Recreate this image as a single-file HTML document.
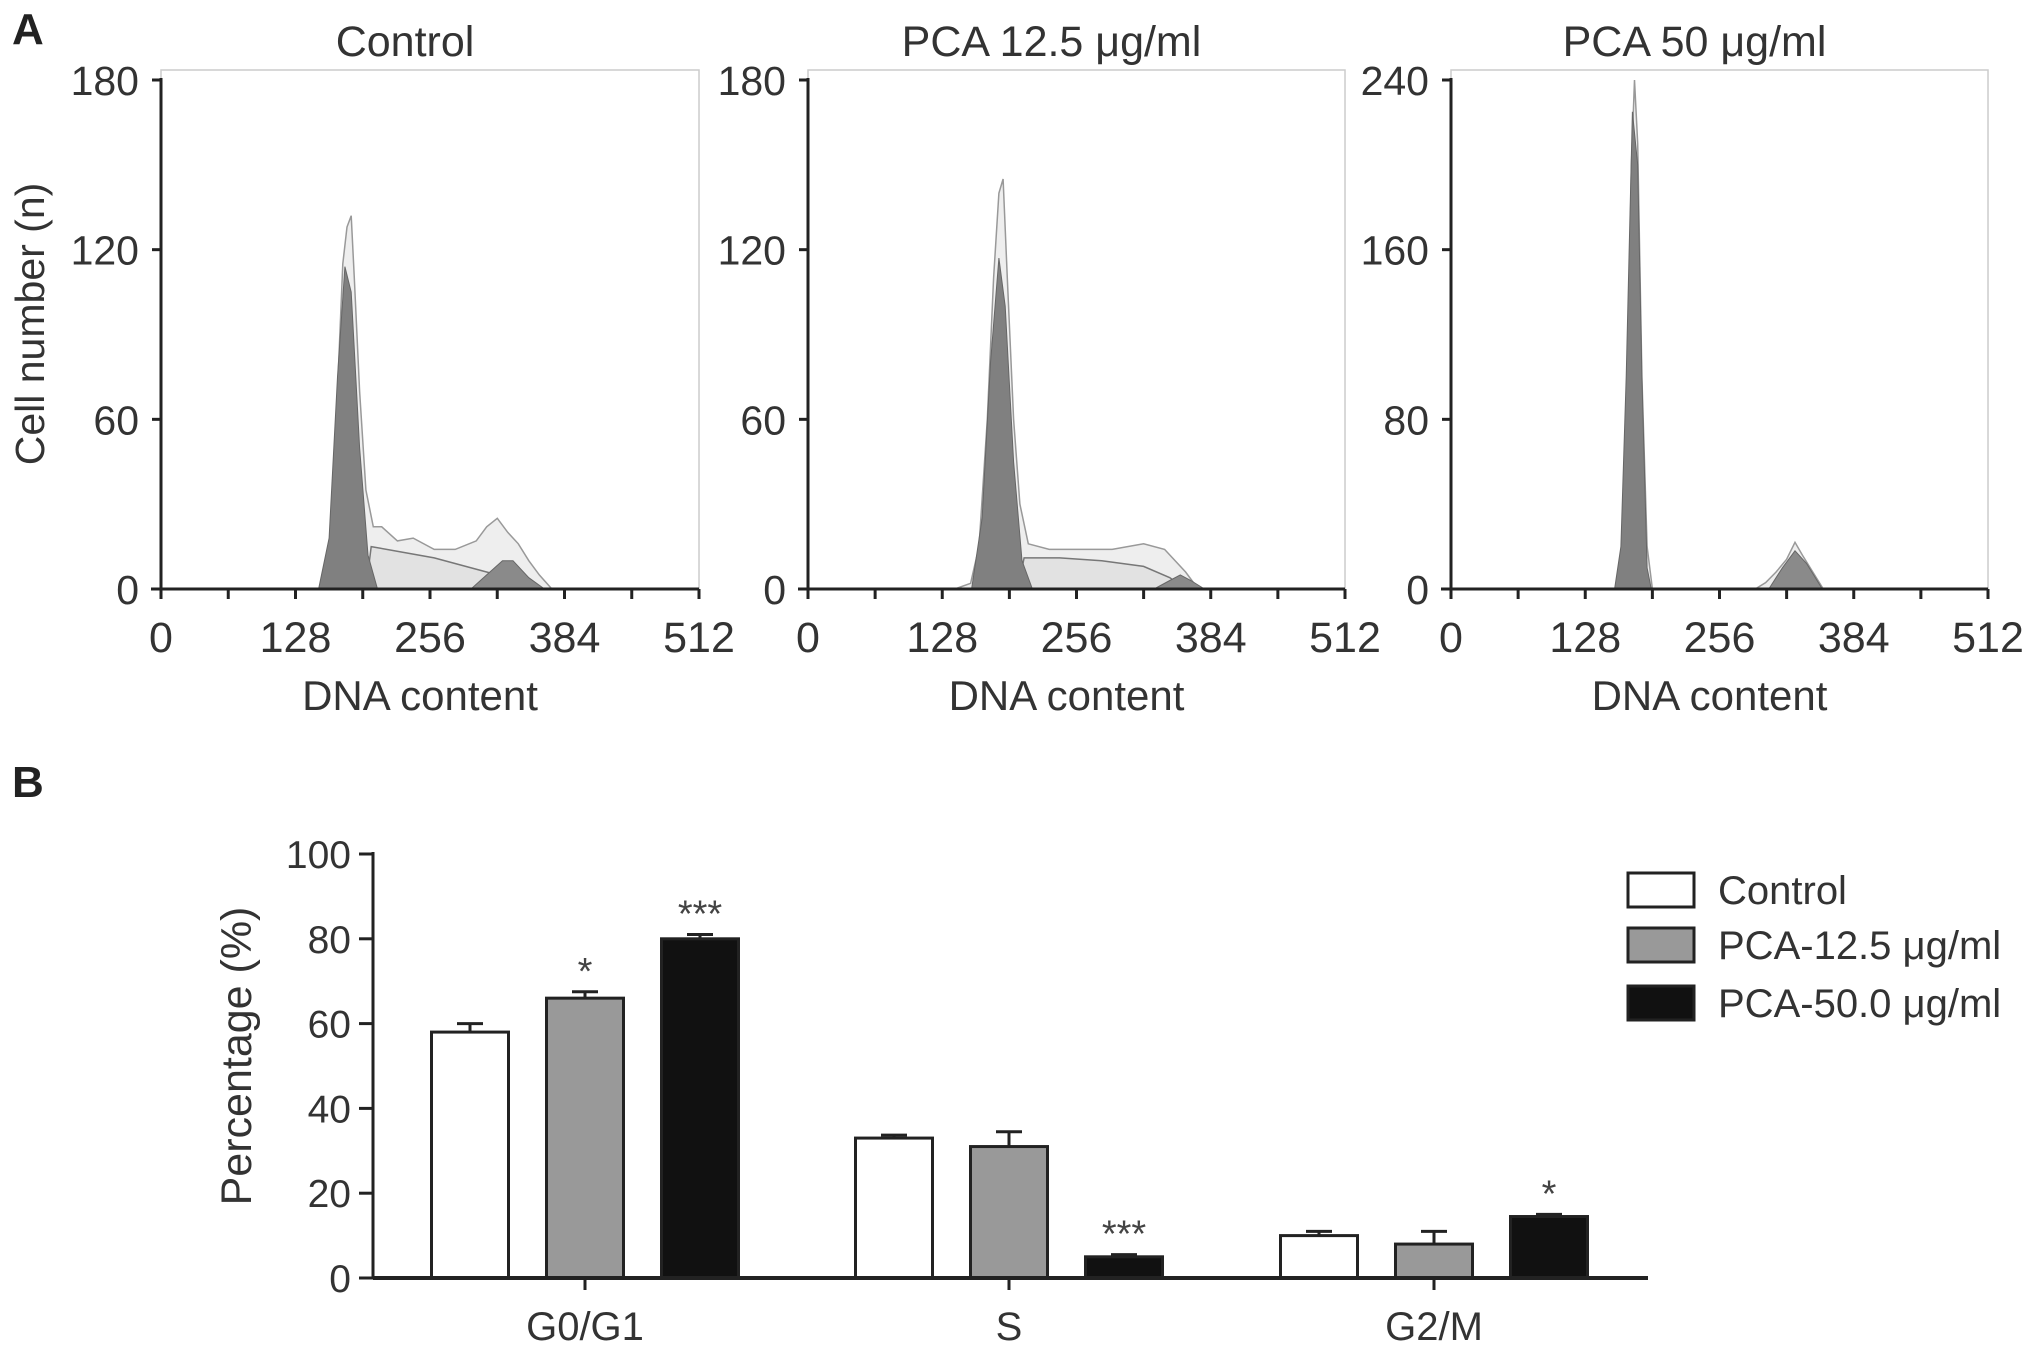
<!DOCTYPE html>
<html><head><meta charset="utf-8"><style>
body{margin:0;background:#fff}
svg{display:block;font-family:"Liberation Sans",sans-serif}
</style></head><body>
<svg id="fig" width="2031" height="1352" viewBox="0 0 2031 1352" xmlns="http://www.w3.org/2000/svg">
<text x="12" y="44" font-size="44" font-weight="bold" fill="#222">A</text>
<text x="12" y="797" font-size="44" font-weight="bold" fill="#222">B</text>
<text transform="translate(44,324) rotate(-90)" text-anchor="middle" font-size="41" fill="#333">Cell number (n)</text>
<g id="hists"></g>
<g id="bars"></g>
</svg>
<script>
// ---- Panel A histogram data (channel, count) ----
const histTitles = ["Control", "PCA 12.5 μg/ml", "PCA 50 μg/ml"];
const histYMax = [180, 180, 240];
const histYTicks = [[0,60,120,180],[0,60,120,180],[0,80,160,240]];
const xTicks = [0,128,256,384,512];
const rawCtrl = [[150,0],[156,3],[162,20],[168,70],[173,115],[177,128],[181,132],[184,110],[189,70],[195,35],[202,22],[210,22],[225,17],[240,18],[260,14],[280,14],[300,17],[310,22],[320,25],[330,20],[340,16],[350,10],[360,5],[372,0]];
const g1Ctrl = [[150,0],[160,18],[168,75],[175,114],[181,105],[189,50],[197,12],[206,0]];
const sCtrl = [[195,0],[200,15],[230,13],[260,11],[290,8],[320,5],[350,1],[360,0]];
const g2Ctrl = [[295,0],[310,5],[325,10],[335,10],[350,4],[365,0]];
const raw12 = [[140,0],[155,2],[163,15],[171,60],[177,110],[182,140],[186,145],[190,110],[196,60],[202,30],[210,16],[230,14],[260,14],[290,14],[320,16],[340,14],[360,6],[372,0]];
const g112 = [[156,0],[166,25],[174,80],[182,117],[188,100],[196,45],[204,10],[214,0]];
const s12 = [[200,0],[206,11],[240,11],[280,10],[320,8],[345,4],[360,0]];
const g212 = [[330,0],[345,3],[355,5],[365,3],[378,0]];
const raw50 = [[150,0],[158,0],[163,10],[168,80],[172,200],[175,240],[178,210],[182,100],[187,20],[192,0],[290,0],[300,3],[310,8],[320,14],[328,22],[335,16],[345,8],[355,0]];
const g150 = [[156,0],[162,20],[167,100],[173,225],[178,200],[182,100],[187,10],[191,0]];
const s50 = [[190,0],[300,0]];
const g250 = [[303,0],[316,10],[328,18],[339,12],[354,0]];
const histRaw = [rawCtrl, raw12, raw50];
const histG1 = [g1Ctrl, g112, g150];
const histS = [sCtrl, s12, s50];
const histG2 = [g2Ctrl, g212, g250];

// ---- Panel B bar data ----
const phases = ["G0/G1","S","G2/M"];
const groups = ["Control","PCA-12.5 μg/ml","PCA-50.0 μg/ml"];
const valControl = [58, 33, 10];
const valPCA125 = [66, 31, 8];
const valPCA50 = [80, 5, 14.5];
const errControl = [2, 0.7, 1];
const errPCA125 = [1.5, 3.5, 3];
const errPCA50 = [1, 0.5, 0.5];
const sigControl = ["", "", ""];
const sigPCA125 = ["*", "", ""];
const sigPCA50 = ["***", "***", "*"];
const barYTicks = [0,20,40,60,80,100];

const NS="http://www.w3.org/2000/svg";
function mk(tag, attrs, parent, text){
  const e=document.createElementNS(NS,tag);
  for(const k in attrs) e.setAttribute(k,attrs[k]);
  if(text!==undefined) e.textContent=text;
  parent.appendChild(e); return e;
}
const H=document.getElementById('hists');
const panelX0=[161,808,1451], panelX1=[699,1345,1988];
const yTop=80, yBot=589;
for(let p=0;p<3;p++){
  const x0=panelX0[p], x1=panelX1[p];
  const sx=v=>x0+(v/512)*(x1-x0);
  const sy=v=>yBot-(v/histYMax[p])*(yBot-yTop);
  const g=mk('g',{},H);
  
  
  const fr=mk('rect',{x:x0,y:yTop-10,width:x1-x0,height:yBot-yTop+10,fill:'none',stroke:'#ccc','stroke-width':1.5},g);
  
  
  const t=mk('text',{x:(x0+x1)/2-25,y:56,'text-anchor':'middle','font-size':43,fill:'#333'},g,histTitles[p]);
  
  
  const poly=(pts,attrs,name)=>{
    const d=pts.map((q,i)=>(i?'L':'M')+sx(q[0]).toFixed(1)+','+sy(q[1]).toFixed(1)).join(' ');
    const e=mk('path',Object.assign({d:d},attrs),g);
    
    
  };
  poly(histRaw[p].concat([[histRaw[p][histRaw[p].length-1][0],0]]),{fill:'#eee',stroke:'#999','stroke-width':1.5},'raw-histogram');
  poly(histS[p],{fill:'#e2e2e2',stroke:'#777','stroke-width':1.5},'s-phase-fit');
  poly(histG1[p],{fill:'#808080',stroke:'#666','stroke-width':1},'g1-peak');
  poly(histG2[p],{fill:'#8a8a8a',stroke:'#666','stroke-width':1},'g2-peak');
  const ya=mk('line',{x1:x0,y1:yTop-2,x2:x0,y2:yBot+10,stroke:'#222','stroke-width':3},g);
  
  
  const xa=mk('line',{x1:x0-10,y1:yBot,x2:x1,y2:yBot,stroke:'#222','stroke-width':3},g);
  
  
  histYTicks[p].forEach(v=>{
    mk('line',{x1:x0-9,y1:sy(v),x2:x0,y2:sy(v),stroke:'#222','stroke-width':3},g);
    const l=mk('text',{x:x0-22,y:sy(v)+15,'text-anchor':'end','font-size':41,fill:'#333'},g,v);
    
    
  });
  for(let v=0;v<=512;v+=64){
    mk('line',{x1:sx(v),y1:yBot,x2:sx(v),y2:yBot+10,stroke:'#222','stroke-width':3},g);
  }
  xTicks.forEach(v=>{
    const l=mk('text',{x:sx(v),y:652,'text-anchor':'middle','font-size':43,fill:'#333'},g,v);
    
    
  });
  const xt=mk('text',{x:(x0+x1)/2-10,y:710,'text-anchor':'middle','font-size':42,fill:'#333'},g,'DNA content');
  
  
}

// Panel B
const B=document.getElementById('bars');
const bx0=373,bx1=1648,by0=1278,by1=854;
const by=v=>by0-(v/100)*(by0-by1);
const centers=[585,1009,1434], bw=77, step=115;
const vals=[valControl,valPCA125,valPCA50], errs=[errControl,errPCA125,errPCA50], sigs=[sigControl,sigPCA125,sigPCA50];
const fills=['#fff','#999','#111'];
const yt=mk('text',{transform:'translate(251,1056) rotate(-90)','text-anchor':'middle','font-size':43,fill:'#333'},B,'Percentage (%)');


for(let i=0;i<phases.length;i++){
  for(let s=0;s<3;s++){
    const cx=centers[i]+(s-1)*step, v=vals[s][i], e=errs[s][i];
    const eb=mk('line',{x1:cx,y1:by(v),x2:cx,y2:by(v+e),stroke:'#222','stroke-width':3},B);
    
    
    mk('line',{x1:cx-13,y1:by(v+e),x2:cx+13,y2:by(v+e),stroke:'#222','stroke-width':3},B);
    const r=mk('rect',{x:cx-bw/2,y:by(v),width:bw,height:by0-by(v),fill:fills[s],stroke:'#222','stroke-width':3},B);
    
    
    if(sigs[s][i]){
      const t=mk('text',{x:cx,y:by(v+e)-8,'text-anchor':'middle','font-size':38,fill:'#444'},B,sigs[s][i]);
      
      
    }
  }
  mk('line',{x1:centers[i],y1:by0,x2:centers[i],y2:by0+12,stroke:'#222','stroke-width':3},B);
  const l=mk('text',{x:centers[i],y:1340,'text-anchor':'middle','font-size':40,fill:'#333'},B,phases[i]);
  
  
}
const bya=mk('line',{x1:bx0,y1:by1-2,x2:bx0,y2:by0,stroke:'#222','stroke-width':3},B);


const bxa=mk('line',{x1:bx0,y1:by0,x2:bx1,y2:by0,stroke:'#222','stroke-width':4},B);


barYTicks.forEach(v=>{
  mk('line',{x1:bx0-14,y1:by(v),x2:bx0,y2:by(v),stroke:'#222','stroke-width':3},B);
  const l=mk('text',{x:bx0-22,y:by(v)+14,'text-anchor':'end','font-size':39,fill:'#333'},B,v);
  
  
});
const legY=[873,928,986];
groups.forEach((g,s)=>{
  const lg=mk('g',{},B);
  
  
  mk('rect',{x:1628,y:legY[s],width:66,height:34,fill:fills[s],stroke:'#222','stroke-width':3},lg);
  mk('text',{x:1718,y:legY[s]+31,'font-size':40,fill:'#333'},lg,g);
});
</script>
</body></html>
